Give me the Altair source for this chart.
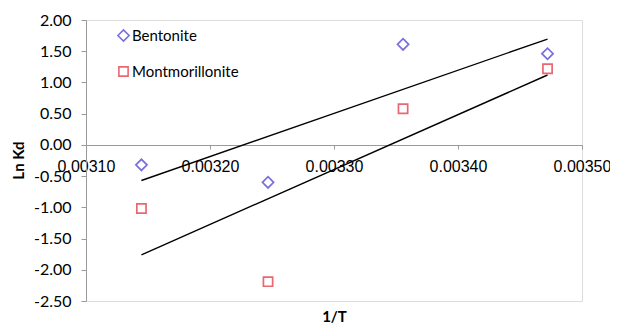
import altair as alt
import pandas as pd

series = ["Bentonite", "Bentonite", "Bentonite", "Bentonite",
          "Montmorillonite", "Montmorillonite", "Montmorillonite", "Montmorillonite"]
inv_t = [0.0031447, 0.0032468, 0.0033557, 0.0034722,
         0.0031447, 0.0032468, 0.0033557, 0.0034722]
ln_kd = [-0.32, -0.60, 1.61, 1.46,
         -1.02, -2.19, 0.58, 1.22]

x_ticks = [0.00310, 0.00320, 0.00330, 0.00340, 0.00350]
y_ticks = [2.0, 1.5, 1.0, 0.5, 0.0, -0.5, -1.0, -1.5, -2.0, -2.5]

df = pd.DataFrame({"series": series, "x": inv_t, "y": ln_kd})

W, H = 496, 281
axis_gray = "#9a9a9a"

x_enc = alt.X("x:Q",
              scale=alt.Scale(domain=[0.00310, 0.00350], nice=False, zero=False),
              axis=alt.Axis(values=x_ticks, format=".5f", title="1/T",
                            offset=-156, grid=False, domainColor=axis_gray,
                            tickColor=axis_gray, tickSize=4, labelPadding=9,
                            labelFont="Liberation Sans", labelFontSize=16,
                            labelColor="#000000", labelFlush=False, labelOverlap=False,
                            labelBound=False,
                            titleFont="Lato", titleFontSize=15, titleFontWeight="bold",
                            titleColor="#000000", titleY=176, titleBaseline="alphabetic"))
y_enc = alt.Y("y:Q",
              scale=alt.Scale(domain=[-2.5, 2.0], nice=False, zero=False),
              axis=alt.Axis(values=y_ticks, title="Ln Kd",
                            labelExpr="datum.value < 0 ? '-' + format(-datum.value, '.2f') : format(datum.value, '.2f')",
                            grid=False, domainColor=axis_gray, tickColor=axis_gray,
                            tickSize=5, labelPadding=10, labelOverlap=False,
                            labelFont="Lato", labelFontSize=16, labelColor="#000000",
                            labelFlush=False,
                            titleFont="Lato", titleFontSize=15, titleFontWeight="bold",
                            titleColor="#000000", titleAngle=-90, titleX=-68, titleY=140,
                            titleAlign="center", titleBaseline="middle"))

points = alt.Chart(df).mark_point(filled=False, strokeWidth=1.7).encode(
    x=x_enc,
    y=y_enc,
    color=alt.Color("series:N",
                    scale=alt.Scale(domain=["Bentonite", "Montmorillonite"],
                                    range=["#4232D2", "#E02834"]),
                    legend=alt.Legend(title=None, orient="none", legendX=30, legendY=8,
                                      labelFont="Lato", labelFontSize=15,
                                      labelColor="#000000", symbolSize=60,
                                      symbolStrokeWidth=1.6, rowPadding=18,
                                      labelOffset=1, padding=0)),
    shape=alt.Shape("series:N",
                    scale=alt.Scale(domain=["Bentonite", "Montmorillonite"],
                                    range=["diamond", "square"])),
    size=alt.Size("series:N",
                  scale=alt.Scale(domain=["Bentonite", "Montmorillonite"],
                                  range=[125, 85]),
                  legend=None),
)

lines = alt.Chart(df).transform_regression(
    "x", "y", groupby=["series"]
).mark_line(color="#000000", strokeWidth=1.4).encode(
    x=x_enc,
    y=y_enc,
    detail="series:N",
)

chart = alt.layer(lines, points).properties(
    width=W, height=H,
    autosize=alt.AutoSizeParams(type="none"),
    padding={"left": 78, "top": 12, "right": 28, "bottom": 22},
).configure_view(stroke=None).configure(background="#ffffff")

chart.save("out.html", embed_options={"renderer": "svg", "actions": False})
